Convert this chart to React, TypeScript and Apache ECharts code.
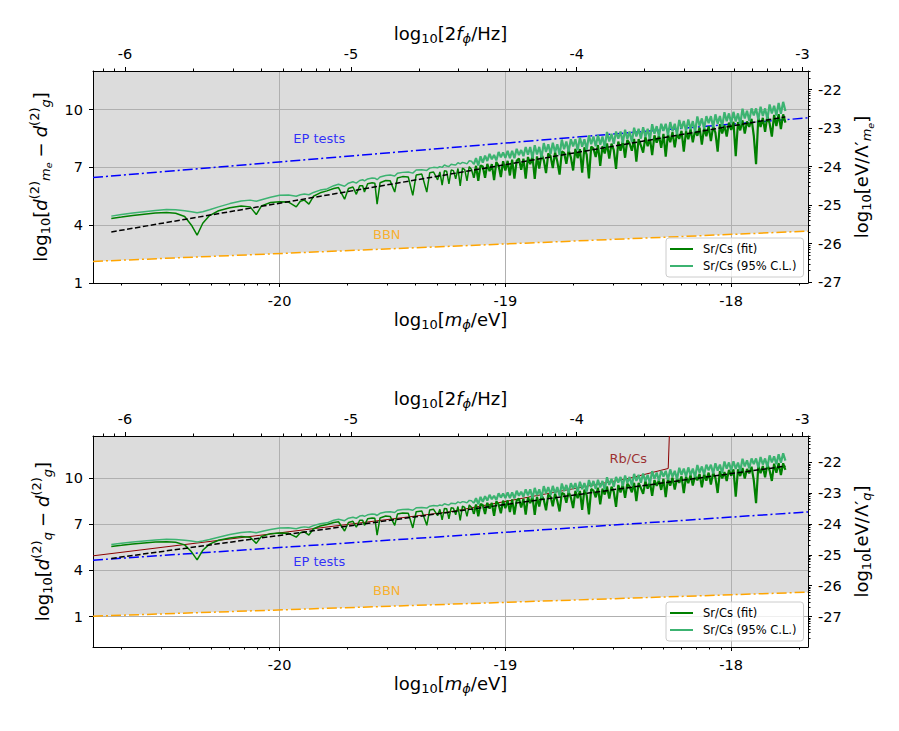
import React, { useEffect, useRef } from "react";
import * as echarts from "echarts";

const FONT = "DejaVu Sans";

// ---------- axis extents ----------
const M_RANGE = [-20.826, -17.66]; // log10[m/eV]
const F_RANGE = [-6.142, -2.976]; // log10[2f/Hz]
const D_RANGE_TOP = [1, 12];
const L_RANGE_TOP = [-27.02, -21.52];
const D_RANGE_BOT = [-0.98, 12.72];
const L_RANGE_BOT = [-27.99, -21.14];

// ---------- tick labels ----------
const M_TICKS = [-20, -19, -18];
const F_TICKS = [-6, -5, -4, -3];
const D_TICKS = [1, 4, 7, 10];
const L_TICKS = [-27, -26, -25, -24, -23, -22];
const MINOR_K = [2, 3, 4, 5, 6, 7, 8, 9];
const M_DECADES = [-21, -20, -19, -18];
const F_DECADES = [-7, -6, -5, -4, -3];
const L_DECADES = [-28, -27, -26, -25, -24, -23, -22];

// ---------- straight lines (x at both ends of the axis) ----------
const EDGE_X = [-20.826, -17.66];
const EP_TOP_Y = [6.47, 9.57];
const BBN_TOP_Y = [2.12, 3.69];
const EP_BOT_Y = [4.66, 7.79];
const BBN_BOT_Y = [1.02, 2.58];

const DASH_X = [-20.745, -17.76];
const DASH_TOP_Y = [3.65, 9.62];
const DASH_BOT_Y = [4.77, 10.76];

const RB_X = [-20.826, -20.0, -19.245, -18.77, -18.456, -18.279, -18.274];
const RB_Y = [4.94, 6.43, 7.8, 9.1, 9.96, 10.61, 12.72];

// ---------- Sr/Cs curves ----------
const X_SMOOTH = [
  -20.745, -20.7, -20.65, -20.6, -20.55, -20.5, -20.46, -20.42, -20.39, -20.365,
  -20.34, -20.31, -20.27, -20.22, -20.17, -20.13, -20.103, -20.08, -20.04, -20.0,
  -19.96, -19.926, -19.908, -19.89, -19.87, -19.85, -19.82, -19.79, -19.76, -19.739,
  -19.712, -19.695, -19.675, -19.66, -19.645, -19.632, -19.624, -19.61, -19.59, -19.578,
  -19.568, -19.555, -19.53, -19.51, -19.49, -19.478, -19.455, -19.43, -19.41, -19.395,
  -19.37, -19.348, -19.335, -19.318, -19.3,
];
const X_DENSE = [
  -19.29, -19.28, -19.27, -19.26, -19.25, -19.24, -19.23, -19.22, -19.21, -19.2,
  -19.19, -19.18, -19.17, -19.16, -19.15, -19.14, -19.13, -19.12, -19.11, -19.1,
  -19.09, -19.08, -19.07, -19.06, -19.05, -19.04, -19.03, -19.02, -19.01, -19.0,
  -18.99, -18.98, -18.97, -18.96, -18.95, -18.94, -18.93, -18.92, -18.91, -18.9,
  -18.89, -18.88, -18.87, -18.86, -18.85, -18.84, -18.83, -18.82, -18.81, -18.8,
  -18.79, -18.78, -18.77, -18.76, -18.75, -18.74, -18.73, -18.72, -18.71, -18.7,
  -18.69, -18.68, -18.67, -18.66, -18.65, -18.64, -18.63, -18.62, -18.61, -18.6,
  -18.59, -18.58, -18.57, -18.56, -18.55, -18.54, -18.53, -18.52, -18.51, -18.5,
  -18.49, -18.48, -18.47, -18.46, -18.45, -18.44, -18.43, -18.42, -18.41, -18.4,
  -18.39, -18.38, -18.37, -18.36, -18.35, -18.34, -18.33, -18.32, -18.31, -18.3,
  -18.29, -18.28, -18.27, -18.26, -18.25, -18.24, -18.23, -18.22, -18.21, -18.2,
  -18.19, -18.18, -18.17, -18.16, -18.15, -18.14, -18.13, -18.12, -18.11, -18.1,
  -18.09, -18.08, -18.07, -18.06, -18.05, -18.04, -18.03, -18.02, -18.01, -18.0,
  -17.99, -17.98, -17.97, -17.96, -17.95, -17.94, -17.93, -17.92, -17.91, -17.9,
  -17.89, -17.88, -17.87, -17.86, -17.85, -17.84, -17.83, -17.82, -17.81, -17.8,
  -17.79, -17.78, -17.77, -17.76,
];

const FIT_TOP_SMOOTH = [
  4.35, 4.42, 4.5, 4.57, 4.63, 4.66, 4.62, 4.45, 4.0, 3.48,
  4.1, 4.5, 4.75, 4.9, 5.0, 4.95, 4.55, 5.0, 5.18, 5.22,
  5.2, 4.95, 5.24, 5.3, 5.09, 5.5, 5.68, 5.78, 5.9, 5.95,
  5.35, 5.9, 5.98, 5.6, 6.05, 6.05, 5.72, 6.15, 6.2, 6.18,
  5.09, 6.2, 6.32, 6.3, 5.72, 6.45, 6.52, 6.5, 5.55, 6.6,
  6.65, 5.72, 6.72, 6.76, 6.35,
];
const FIT_TOP_DENSE = [
  6.76, 6.08, 6.82, 6.8, 6.14, 6.86, 6.83, 6.4, 6.94, 6.04,
  6.96, 6.88, 6.3, 7.04, 6.89, 6.46, 7.08, 6.3, 7.1, 7.04,
  6.46, 7.18, 6.8, 7.17, 6.34, 7.28, 7.08, 6.5, 7.32, 6.84,
  7.34, 6.58, 7.4, 6.42, 7.34, 7.46, 6.88, 7.45, 6.42, 7.54,
  7.16, 7.58, 6.4, 7.57, 6.94, 7.68, 7.38, 6.7, 7.72, 7.59,
  6.96, 7.78, 7.3, 6.62, 7.82, 7.76, 7.18, 7.9, 7.52, 6.84,
  7.96, 7.48, 7.95, 6.72, 8.04, 7.66, 6.43, 8.08, 7.97, 7.54,
  8.16, 7.08, 8.1, 7.72, 8.24, 7.46, 8.23, 7.9, 6.92, 8.34,
  7.86, 8.36, 7.5, 8.42, 8.24, 7.86, 8.48, 7.3, 8.47, 8.14,
  7.76, 8.58, 8.1, 8.52, 7.64, 8.66, 8.28, 8.65, 8.02, 8.74,
  7.56, 8.73, 8.3, 8.82, 8.04, 8.76, 8.48, 8.9, 7.82, 8.89,
  8.46, 8.98, 8.3, 8.92, 8.64, 9.06, 8.18, 9.05, 8.62, 9.14,
  8.36, 9.13, 8.8, 7.82, 9.24, 8.76, 9.18, 8.6, 9.32, 8.94,
  9.36, 7.58, 9.35, 8.92, 9.44, 8.76, 9.38, 9.1, 9.52, 8.64,
  7.16, 9.58, 9.1, 9.57, 8.84, 9.66, 9.28, 8.6, 9.72, 9.14,
  9.76, 8.98, 9.75, 9.32,
];
const CL_TOP_SMOOTH = [
  4.47, 4.55, 4.63, 4.7, 4.76, 4.81, 4.8, 4.75, 4.7, 4.64,
  4.7, 4.8, 4.95, 5.12, 5.25, 5.3, 5.24, 5.32, 5.45, 5.55,
  5.56, 5.5, 5.58, 5.62, 5.58, 5.7, 5.82, 5.88, 6.05, 6.12,
  6.02, 6.18, 6.25, 6.18, 6.32, 6.36, 6.3, 6.4, 6.45, 6.44,
  6.36, 6.5, 6.58, 6.6, 6.55, 6.7, 6.74, 6.76, 6.7, 6.86,
  6.88, 6.84, 6.96, 7.0, 6.98,
];
const CL_TOP_DENSE = [
  7.04, 7.0, 7.12, 7.07, 7.04, 7.16, 7.14, 7.12, 7.24, 7.18,
  7.26, 7.23, 7.18, 7.34, 7.32, 7.16, 7.48, 7.1, 7.57, 7.24,
  7.61, 7.33, 7.7, 7.42, 7.64, 7.36, 7.8, 7.52, 7.78, 7.49,
  7.86, 7.48, 7.86, 7.47, 7.96, 7.64, 7.9, 7.58, 8.06, 7.66,
  8.06, 7.48, 8.15, 7.67, 8.06, 7.51, 8.26, 7.8, 8.2, 7.69,
  8.28, 7.78, 8.2, 7.64, 8.44, 7.94, 8.34, 7.82, 8.46, 8.09,
  8.46, 7.88, 8.55, 8.07, 8.46, 7.91, 8.66, 8.2, 8.6, 8.09,
  8.68, 8.18, 8.6, 8.04, 8.84, 8.34, 8.74, 8.22, 8.86, 8.49,
  8.86, 8.28, 8.95, 8.47, 8.86, 8.31, 9.06, 8.6, 9.0, 8.49,
  9.08, 8.58, 9.0, 8.44, 9.24, 8.74, 9.14, 8.62, 9.26, 8.89,
  9.26, 8.68, 9.35, 8.87, 9.26, 8.71, 9.46, 9.0, 9.4, 8.89,
  9.48, 8.98, 9.4, 8.84, 9.64, 9.14, 9.54, 9.02, 9.66, 9.29,
  9.66, 9.08, 9.75, 9.27, 9.66, 9.11, 9.86, 9.4, 9.8, 9.29,
  9.88, 9.38, 9.8, 9.24, 10.04, 9.54, 9.94, 9.42, 10.06, 9.69,
  10.06, 9.48, 10.15, 9.67, 10.06, 9.51, 10.26, 9.8, 10.2, 9.69,
  10.34, 9.78, 10.4, 9.92,
];

const FIT_BOT_SMOOTH = [
  5.55, 5.62, 5.7, 5.77, 5.83, 5.86, 5.82, 5.65, 5.2, 4.68,
  5.3, 5.7, 5.95, 6.1, 6.2, 6.15, 5.75, 6.2, 6.38, 6.42,
  6.4, 6.15, 6.44, 6.5, 6.29, 6.7, 6.88, 6.98, 7.1, 7.15,
  6.55, 7.1, 7.18, 6.8, 7.25, 7.25, 6.92, 7.35, 7.4, 7.38,
  6.29, 7.4, 7.52, 7.5, 6.92, 7.65, 7.72, 7.7, 6.75, 7.8,
  7.85, 6.92, 7.92, 7.96, 7.55,
];
const FIT_BOT_DENSE = [
  7.96, 7.28, 8.02, 8.0, 7.34, 8.06, 8.03, 7.6, 8.14, 7.24,
  8.16, 8.08, 7.5, 8.24, 8.09, 7.66, 8.28, 7.5, 8.3, 8.24,
  7.66, 8.38, 8.0, 8.37, 7.54, 8.48, 8.28, 7.7, 8.52, 8.04,
  8.54, 7.78, 8.6, 7.62, 8.54, 8.66, 8.08, 8.65, 7.62, 8.74,
  8.36, 8.78, 7.6, 8.77, 8.14, 8.88, 8.58, 7.9, 8.92, 8.79,
  8.16, 8.98, 8.5, 7.82, 9.02, 8.96, 8.38, 9.1, 8.72, 8.04,
  9.16, 8.68, 9.15, 7.92, 9.24, 8.86, 7.63, 9.28, 9.17, 8.74,
  9.36, 8.28, 9.3, 8.92, 9.44, 8.66, 9.43, 9.1, 8.12, 9.54,
  9.06, 9.56, 8.7, 9.62, 9.44, 9.06, 9.68, 8.5, 9.67, 9.34,
  8.96, 9.78, 9.3, 9.72, 8.84, 9.86, 9.48, 9.85, 9.22, 9.94,
  8.76, 9.93, 9.5, 10.02, 9.24, 9.96, 9.68, 10.1, 9.02, 10.09,
  9.66, 10.18, 9.5, 10.12, 9.84, 10.26, 9.38, 10.25, 9.82, 10.34,
  9.56, 10.33, 10.0, 9.02, 10.44, 9.96, 10.38, 9.8, 10.52, 10.14,
  10.56, 8.78, 10.55, 10.12, 10.64, 9.96, 10.58, 10.3, 10.72, 9.84,
  8.36, 10.78, 10.3, 10.77, 10.04, 10.86, 10.48, 9.8, 10.92, 10.34,
  10.96, 10.18, 10.95, 10.52,
];
const CL_BOT_SMOOTH = [
  5.67, 5.75, 5.83, 5.9, 5.96, 6.01, 6.0, 5.95, 5.9, 5.84,
  5.9, 6.0, 6.15, 6.32, 6.45, 6.5, 6.44, 6.52, 6.65, 6.75,
  6.76, 6.7, 6.78, 6.82, 6.78, 6.9, 7.02, 7.08, 7.25, 7.32,
  7.22, 7.38, 7.45, 7.38, 7.52, 7.56, 7.5, 7.6, 7.65, 7.64,
  7.56, 7.7, 7.78, 7.8, 7.75, 7.9, 7.94, 7.96, 7.9, 8.06,
  8.08, 8.04, 8.16, 8.2, 8.18,
];
const CL_BOT_DENSE = [
  8.24, 8.2, 8.32, 8.27, 8.24, 8.36, 8.34, 8.32, 8.44, 8.38,
  8.46, 8.43, 8.38, 8.54, 8.52, 8.36, 8.68, 8.3, 8.77, 8.44,
  8.81, 8.53, 8.9, 8.62, 8.84, 8.56, 9.0, 8.72, 8.98, 8.69,
  9.06, 8.68, 9.06, 8.67, 9.16, 8.84, 9.1, 8.78, 9.26, 8.86,
  9.26, 8.68, 9.35, 8.87, 9.26, 8.71, 9.46, 9.0, 9.4, 8.89,
  9.48, 8.98, 9.4, 8.84, 9.64, 9.14, 9.54, 9.02, 9.66, 9.29,
  9.66, 9.08, 9.75, 9.27, 9.66, 9.11, 9.86, 9.4, 9.8, 9.29,
  9.88, 9.38, 9.8, 9.24, 10.04, 9.54, 9.94, 9.42, 10.06, 9.69,
  10.06, 9.48, 10.15, 9.67, 10.06, 9.51, 10.26, 9.8, 10.2, 9.69,
  10.28, 9.78, 10.2, 9.64, 10.44, 9.94, 10.34, 9.82, 10.46, 10.09,
  10.46, 9.88, 10.55, 10.07, 10.46, 9.91, 10.66, 10.2, 10.6, 10.09,
  10.68, 10.18, 10.6, 10.04, 10.84, 10.34, 10.74, 10.22, 10.86, 10.49,
  10.86, 10.28, 10.95, 10.47, 10.86, 10.31, 11.06, 10.6, 11.0, 10.49,
  11.08, 10.58, 11.0, 10.44, 11.24, 10.74, 11.14, 10.62, 11.26, 10.89,
  11.26, 10.68, 11.35, 10.87, 11.26, 10.71, 11.46, 11.0, 11.4, 10.89,
  11.54, 10.98, 11.6, 11.12,
];

// ---------- in-plot annotations ----------
const NOTE_TOP_TEXT = ["EP tests", "BBN"];
const NOTE_TOP_X = [-19.824, -19.525];
const NOTE_TOP_Y = [8.49, 3.53];
const NOTE_BOT_TEXT = ["EP tests", "BBN", "Rb/Cs"];
const NOTE_BOT_X = [-19.824, -19.525, -18.456];
const NOTE_BOT_Y = [4.55, 2.66, 11.26];

const FIT_NAME = "Sr/Cs (fit)";
const CL_NAME = "Sr/Cs (95% C.L.)";

// ---------- styles ----------
const C_FIT = "#008000";
const C_CL = "#3cb371";
const C_EP = "#0000ff";
const C_BBN = "#ffa500";
const C_RB = "#8b0000";
const NOTE_COLORS: Record<string, string> = { "EP tests": C_EP, BBN: C_BBN, "Rb/Cs": C_RB };
const THICK_FROM = X_SMOOTH.length + 15; // index where the dense band is drawn heavier

const base = { fontFamily: FONT, color: "#000", verticalAlign: "middle" };
const RICH = {
  n: { ...base, fontSize: 18 },
  i: { ...base, fontSize: 18, fontStyle: "italic" },
  mi: { ...base, fontSize: 18, padding: [0, 5, 0, 5] },
  s: { ...base, fontSize: 13, padding: [10, 0, 0, 0] },
  si: { ...base, fontSize: 13, fontStyle: "italic", padding: [10, 0, 0, 0] },
  ss: { ...base, fontSize: 9.5, fontStyle: "italic", padding: [17, 0, 0, 0] },
  p: { ...base, fontSize: 13, padding: [0, 0, 12, 0] },
};

const NAME_M = "{n|log}{s|10}{n|[}{i|m}{si|ϕ}{n|/eV]}";
const NAME_F = "{n|log}{s|10}{n|[2}{i|f}{si|ϕ}{n|/Hz]}";
const NAME_D_TOP = "{n|log}{s|10}{n|[}{i|d}{p|(2)}{si|m}{ss|e}{mi|−}{i|d}{p|(2)}{si|g}{n|]}";
const NAME_D_BOT = "{n|log}{s|10}{n|[}{i|d}{p|(2)}{si|q}{mi|−}{i|d}{p|(2)}{si|g}{n|]}";
const NAME_L_TOP = "{n|log}{s|10}{n|[eV/Λ′}{si|m}{ss|e}{n|]}";
const NAME_L_BOT = "{n|log}{s|10}{n|[eV/Λ′}{si|q}{n|]}";

const minorValues = (decades: number[]) =>
  decades.flatMap((n) => MINOR_K.map((k) => n + Math.log10(k)));

const pairs = (xs: number[], ys: number[]) => xs.map((x, i) => [x, ys[i]]);

const tickLabel = { fontFamily: FONT, fontSize: 14.5, color: "#000" };
const black = { color: "#000", width: 1 };
const gridLine = { show: true, lineStyle: { color: "#b0b0b0", width: 1 } };

function majorAxis(gridIndex: number, position: string, range: number[], ticks: number[], name: string, nameGap: number, split: boolean, vertical: boolean) {
  return {
    type: "value",
    gridIndex,
    position,
    min: range[0],
    max: range[1],
    z: 1,
    axisLine: { show: true, onZero: false, lineStyle: black },
    axisTick: { show: true, inside: false, length: 4, customValues: ticks, lineStyle: black },
    axisLabel: { show: true, margin: 10, customValues: ticks, formatter: (v: number) => String(Math.round(v)), ...tickLabel },
    splitLine: split ? gridLine : { show: false },
    name,
    nameLocation: "middle",
    nameGap,
    nameRotate: vertical ? 90 : 0,
    nameTextStyle: { fontFamily: FONT, fontSize: 18, color: "#000", rich: RICH },
  };
}

function minorAxis(gridIndex: number, position: string, range: number[], ticks: number[]) {
  return {
    type: "value",
    gridIndex,
    position,
    min: range[0],
    max: range[1],
    z: 1,
    axisLine: { show: false, onZero: false },
    axisTick: { show: true, inside: false, length: 2.5, customValues: ticks, lineStyle: black },
    axisLabel: { show: false },
    splitLine: { show: false },
  };
}

type Panel = {
  dRange: number[];
  lRange: number[];
  dName: string;
  lName: string;
  ep: number[];
  bbn: number[];
  dash: number[];
  fit: number[];
  cl: number[];
  rb: boolean;
  notes: { text: string[]; x: number[]; y: number[] };
  legendTop: number;
};

const PANELS: Panel[] = [
  {
    dRange: D_RANGE_TOP, lRange: L_RANGE_TOP, dName: NAME_D_TOP, lName: NAME_L_TOP,
    ep: EP_TOP_Y, bbn: BBN_TOP_Y, dash: DASH_TOP_Y,
    fit: [...FIT_TOP_SMOOTH, ...FIT_TOP_DENSE], cl: [...CL_TOP_SMOOTH, ...CL_TOP_DENSE],
    rb: false, notes: { text: NOTE_TOP_TEXT, x: NOTE_TOP_X, y: NOTE_TOP_Y }, legendTop: 238,
  },
  {
    dRange: D_RANGE_BOT, lRange: L_RANGE_BOT, dName: NAME_D_BOT, lName: NAME_L_BOT,
    ep: EP_BOT_Y, bbn: BBN_BOT_Y, dash: DASH_BOT_Y,
    fit: [...FIT_BOT_SMOOTH, ...FIT_BOT_DENSE], cl: [...CL_BOT_SMOOTH, ...CL_BOT_DENSE],
    rb: true, notes: { text: NOTE_BOT_TEXT, x: NOTE_BOT_X, y: NOTE_BOT_Y }, legendTop: 602,
  },
];

function buildOption() {
  const X_ALL = [...X_SMOOTH, ...X_DENSE];
  const grid = [
    { left: 93, top: 71, width: 715, height: 212 },
    { left: 93, top: 436, width: 715, height: 211 },
  ].map((g) => ({ ...g, show: true, backgroundColor: "#dcdcdc", borderWidth: 0, containLabel: false }));

  const xAxis: any[] = [];
  const yAxis: any[] = [];
  const series: any[] = [];
  const legend: any[] = [];

  PANELS.forEach((p, gi) => {
    const xi = xAxis.length;
    xAxis.push(majorAxis(gi, "bottom", M_RANGE, M_TICKS, NAME_M, 25, true, false));
    xAxis.push(minorAxis(gi, "bottom", M_RANGE, minorValues(M_DECADES)));
    xAxis.push(majorAxis(gi, "top", F_RANGE, F_TICKS, NAME_F, 26, false, false));
    xAxis.push(minorAxis(gi, "top", F_RANGE, minorValues(F_DECADES)));
    const yi = yAxis.length;
    yAxis.push(majorAxis(gi, "left", p.dRange, D_TICKS, p.dName, 33, true, true));
    yAxis.push(majorAxis(gi, "right", p.lRange, L_TICKS, p.lName, 37, false, true));
    yAxis.push(minorAxis(gi, "right", p.lRange, minorValues(L_DECADES)));

    const common = { xAxisIndex: xi, yAxisIndex: yi, symbol: "none", silent: true, animation: false };
    series.push({
      ...common, type: "line", name: "bbn-fill", z: 0,
      data: pairs(EDGE_X, p.bbn),
      lineStyle: { width: 0, opacity: 0 },
      areaStyle: { color: "#ffffff", opacity: 1, origin: "start" },
    });
    series.push({
      ...common, type: "line", name: "EP", z: 2,
      data: pairs(EDGE_X, p.ep),
      lineStyle: { color: C_EP, width: 1.5, type: [10, 3, 2, 3] },
    });
    series.push({
      ...common, type: "line", name: "BBN", z: 2,
      data: pairs(EDGE_X, p.bbn),
      lineStyle: { color: C_BBN, width: 1.5, type: [10, 3, 2, 3] },
    });
    if (p.rb) {
      series.push({
        ...common, type: "line", name: "Rb/Cs", z: 2,
        data: pairs(RB_X, RB_Y),
        lineStyle: { color: C_RB, width: 1 },
      });
    }
    const fitPts = pairs(X_ALL, p.fit);
    const clPts = pairs(X_ALL, p.cl);
    const curve = (name: string, color: string, pts: number[][], width: number) => ({
      ...common, type: "line", name, z: 2, color,
      data: pts,
      itemStyle: { color },
      lineStyle: { color, width },
    });
    series.push(curve(FIT_NAME, C_FIT, fitPts.slice(0, THICK_FROM + 1), 1.5));
    series.push(curve(FIT_NAME, C_FIT, fitPts.slice(THICK_FROM), 2.2));
    series.push(curve(CL_NAME, C_CL, clPts.slice(0, THICK_FROM + 1), 1.5));
    series.push(curve(CL_NAME, C_CL, clPts.slice(THICK_FROM), 2.2));
    series.push({
      ...common, type: "line", name: "trend", z: 3,
      data: pairs(DASH_X, p.dash),
      lineStyle: { color: "#000", width: 1.5, type: [5.5, 2.5] },
    });
    series.push({
      type: "scatter", xAxisIndex: xi, yAxisIndex: yi, silent: true, z: 4,
      symbolSize: 1, itemStyle: { color: "rgba(0,0,0,0)" },
      data: p.notes.text.map((t, i) => ({
        value: [p.notes.x[i], p.notes.y[i]], name: t,
        label: { color: NOTE_COLORS[t] },
      })),
      label: { show: true, position: "inside", formatter: "{b}", fontFamily: FONT, fontSize: 13 },
    });
    legend.push({
      orient: "vertical", left: 666, top: p.legendTop,
      data: [FIT_NAME, CL_NAME],
      icon: "rect", itemWidth: 23, itemHeight: 2, itemGap: 3,
      padding: [4, 7, 4, 4],
      backgroundColor: "rgba(255,255,255,0.8)", borderColor: "#cccccc", borderWidth: 1, borderRadius: 3,
      textStyle: { fontFamily: FONT, fontSize: 11.5, color: "#000", lineHeight: 14, padding: [0, 0, 0, 5] },
      selectedMode: false,
    });
  });

  return { animation: false, backgroundColor: "#ffffff", grid, xAxis, yAxis, series, legend };
}

export default function App() {
  const ref = useRef<HTMLDivElement>(null);
  useEffect(() => {
    if (!ref.current) return;
    const chart = echarts.init(ref.current, undefined, { renderer: "svg" });
    chart.setOption(buildOption() as any);
    return () => chart.dispose();
  }, []);
  return (
    <div
      ref={ref}
      style={{ position: "absolute", left: 0, top: 0, width: 899, height: 731, background: "#fff" }}
    />
  );
}
